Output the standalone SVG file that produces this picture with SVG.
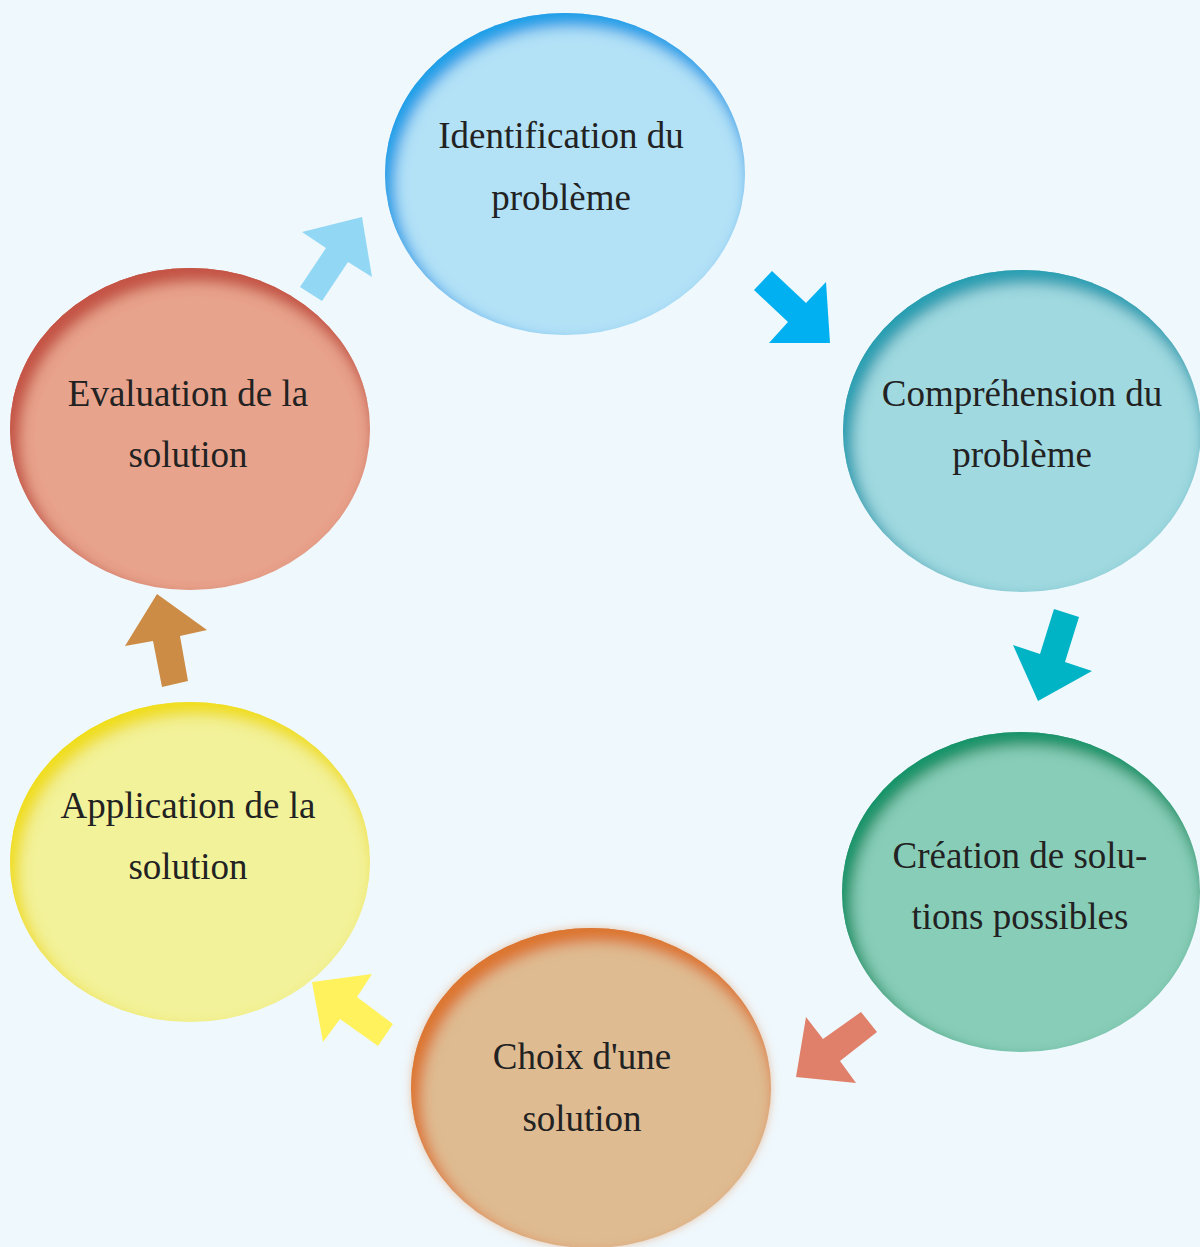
<svg xmlns="http://www.w3.org/2000/svg" width="1200" height="1247" viewBox="0 0 1200 1247">
<defs>
<style>
.lbl{font-family:"Liberation Serif","Times New Roman",serif;font-size:37px;fill:#222;text-anchor:middle}
</style>
<filter id="f1" x="-10%" y="-10%" width="120%" height="120%">
<feComponentTransfer in="SourceAlpha" result="inv"><feFuncA type="table" tableValues="1 0"/></feComponentTransfer>
<feOffset in="inv" dx="6" dy="10" result="off"/><feGaussianBlur in="off" stdDeviation="8" result="bl"/>
<feFlood flood-color="#1fa0e8"/><feComposite operator="in" in2="bl"/><feComposite operator="in" in2="SourceAlpha" result="sh"/>
<feMerge><feMergeNode in="SourceGraphic"/><feMergeNode in="sh"/><feMergeNode in="sh"/></feMerge></filter>
<filter id="f2" x="-10%" y="-10%" width="120%" height="120%">
<feComponentTransfer in="SourceAlpha" result="inv"><feFuncA type="table" tableValues="1 0"/></feComponentTransfer>
<feOffset in="inv" dx="6" dy="10" result="off"/><feGaussianBlur in="off" stdDeviation="8" result="bl"/>
<feFlood flood-color="#2a9fb2"/><feComposite operator="in" in2="bl"/><feComposite operator="in" in2="SourceAlpha" result="sh"/>
<feMerge><feMergeNode in="SourceGraphic"/><feMergeNode in="sh"/><feMergeNode in="sh"/></feMerge></filter>
<filter id="f3" x="-10%" y="-10%" width="120%" height="120%">
<feComponentTransfer in="SourceAlpha" result="inv"><feFuncA type="table" tableValues="1 0"/></feComponentTransfer>
<feOffset in="inv" dx="6" dy="10" result="off"/><feGaussianBlur in="off" stdDeviation="8" result="bl"/>
<feFlood flood-color="#16946a"/><feComposite operator="in" in2="bl"/><feComposite operator="in" in2="SourceAlpha" result="sh"/>
<feMerge><feMergeNode in="SourceGraphic"/><feMergeNode in="sh"/><feMergeNode in="sh"/></feMerge></filter>
<filter id="f4" x="-10%" y="-10%" width="120%" height="120%">
<feComponentTransfer in="SourceAlpha" result="inv"><feFuncA type="table" tableValues="1 0"/></feComponentTransfer>
<feOffset in="inv" dx="6" dy="10" result="off"/><feGaussianBlur in="off" stdDeviation="8" result="bl"/>
<feFlood flood-color="#dc7630"/><feComposite operator="in" in2="bl"/><feComposite operator="in" in2="SourceAlpha" result="sh"/>
<feGaussianBlur in="SourceAlpha" stdDeviation="5" result="gb"/>
<feFlood flood-color="#e0a070" flood-opacity="0.6"/><feComposite operator="in" in2="gb" result="glow"/>
<feMerge><feMergeNode in="glow"/><feMergeNode in="SourceGraphic"/><feMergeNode in="sh"/><feMergeNode in="sh"/></feMerge></filter>
<filter id="f5" x="-10%" y="-10%" width="120%" height="120%">
<feComponentTransfer in="SourceAlpha" result="inv"><feFuncA type="table" tableValues="1 0"/></feComponentTransfer>
<feOffset in="inv" dx="6" dy="10" result="off"/><feGaussianBlur in="off" stdDeviation="8" result="bl"/>
<feFlood flood-color="#f0de20"/><feComposite operator="in" in2="bl"/><feComposite operator="in" in2="SourceAlpha" result="sh"/>
<feMerge><feMergeNode in="SourceGraphic"/><feMergeNode in="sh"/><feMergeNode in="sh"/></feMerge></filter>
<filter id="f6" x="-10%" y="-10%" width="120%" height="120%">
<feComponentTransfer in="SourceAlpha" result="inv"><feFuncA type="table" tableValues="1 0"/></feComponentTransfer>
<feOffset in="inv" dx="6" dy="10" result="off"/><feGaussianBlur in="off" stdDeviation="8" result="bl"/>
<feFlood flood-color="#c45446"/><feComposite operator="in" in2="bl"/><feComposite operator="in" in2="SourceAlpha" result="sh"/>
<feMerge><feMergeNode in="SourceGraphic"/><feMergeNode in="sh"/><feMergeNode in="sh"/></feMerge></filter>
</defs>
<rect width="1200" height="1247" fill="#eff8fd"/>
<g id="connectors">
<polygon points="300,287 322,301 348,262 372,277 362,217 302,232 326,248" fill="#92d8f5"/>
<polygon points="754,290 772,271 806,303 826,282 830,343 769,343 788,322" fill="#00b0f0"/>
<polygon points="1054,609 1079,617 1065,662 1092,671 1038,701 1013,645 1040,654" fill="#00b4c6"/>
<polygon points="861,1012 877,1032 840,1061 856,1083 796,1077 806,1017 823,1039" fill="#e0806a"/>
<polygon points="393,1024 378,1046 340,1019 323,1042 312,982 372,974 357,997" fill="#fff25c"/>
<polygon points="162,687 188,681 180,636 207,630 157,594 125,646 153,641" fill="#cd8c45"/>
</g>
<g id="n1">
<ellipse cx="565" cy="174" rx="180" ry="161" fill="#b3e2f7" filter="url(#f1)"/>
<text class="lbl" x="561" y="148">Identification du</text>
<text class="lbl" x="561" y="210">problème</text>
</g>
<g id="n2">
<ellipse cx="1022" cy="431" rx="179" ry="161" fill="#a0d9e0" filter="url(#f2)"/>
<text class="lbl" x="1022" y="406">Compréhension du</text>
<text class="lbl" x="1022" y="467">problème</text>
</g>
<g id="n3">
<ellipse cx="1021" cy="892" rx="179" ry="160" fill="#88cdb8" filter="url(#f3)"/>
<text class="lbl" x="1020" y="868">Création de solu-</text>
<text class="lbl" x="1020" y="929">tions possibles</text>
</g>
<g id="n4">
<ellipse cx="591" cy="1088" rx="180" ry="160" fill="#dfbb92" filter="url(#f4)"/>
<text class="lbl" x="582" y="1069">Choix d'une</text>
<text class="lbl" x="582" y="1131">solution</text>
</g>
<g id="n5">
<ellipse cx="190" cy="862" rx="180" ry="160" fill="#f2f29a" filter="url(#f5)"/>
<text class="lbl" x="188" y="818">Application de la</text>
<text class="lbl" x="188" y="879">solution</text>
</g>
<g id="n6">
<ellipse cx="190" cy="429" rx="180" ry="161" fill="#e8a38c" filter="url(#f6)"/>
<text class="lbl" x="188" y="406">Evaluation de la</text>
<text class="lbl" x="188" y="467">solution</text>
</g>
</svg>
